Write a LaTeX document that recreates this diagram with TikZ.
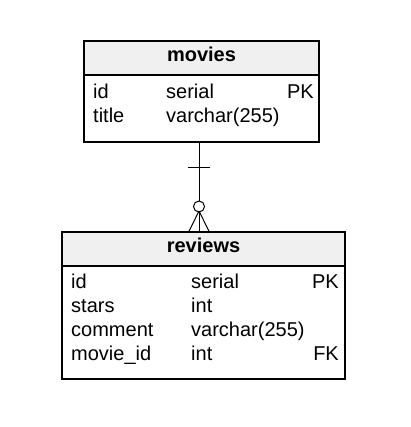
\documentclass[tikz,border=0pt]{standalone}
\usepackage{fontspec}
\setmainfont{Liberation Sans}
\begin{document}
\begin{tikzpicture}[x=1pt,y=-1pt,
  tbl/.style={draw=black, line width=1.4pt, rectangle, inner sep=0pt},
  hdr/.style={draw=black, line width=1.4pt, fill=black!6, rectangle, inner sep=0pt},
  fld/.style={anchor=base west, inner sep=0pt, font=\fontsize{20}{24}\selectfont},
  key/.style={anchor=base east, inner sep=0pt, font=\fontsize{20}{24}\selectfont},
  ttl/.style={anchor=base, inner sep=0pt, font=\fontsize{20}{24}\selectfont\bfseries},
  rel/.style={draw=black, line width=1pt}]
\useasboundingbox (0,0) rectangle (410,427);
% movies
\node[tbl, minimum width=235pt, minimum height=101pt] (movies) at (201.5,91.5) {};
\node[hdr, minimum width=235pt, minimum height=34pt] (movieshdr) at (201.5,58) {};
\node[ttl] (mt) at (201.5,62) {movies};
\node[fld] (m1a) at (93,99) {id};
\node[fld] (m1b) at (166,99) {serial};
\node[key] (m1c) at (314,99) {PK};
\node[fld] (m2a) at (93,123) {title};
\node[fld] (m2b) at (166,123) {varchar(255)};
% reviews
\node[tbl, minimum width=283pt, minimum height=147pt] (reviews) at (203.5,305.5) {};
\node[hdr, minimum width=283pt, minimum height=34pt] (reviewshdr) at (203.5,249) {};
\node[ttl] (rt) at (203.5,252) {reviews};
\node[fld] (r1a) at (71,288) {id};
\node[fld] (r1b) at (191,288) {serial};
\node[key] (r1c) at (339,288) {PK};
\node[fld] (r2a) at (71,312) {stars};
\node[fld] (r2b) at (191,312) {int};
\node[fld] (r3a) at (71,336) {comment};
\node[fld] (r3b) at (191,336) {varchar(255)};
\node[fld] (r4a) at (71,360) {movie\_id};
\node[fld] (r4b) at (191,360) {int};
\node[key] (r4c) at (339,360) {FK};
% relationship
\coordinate (cx) at (199,0);
\coordinate (apex) at (199,211);
\draw[rel] (movies.south -| cx) -- (reviews.north -| cx);
\draw[rel] (188,168) -- (210,168);
\draw[rel, fill=white] (199,206.5) circle (5.5pt);
\draw[rel] (apex) -- (reviews.north -| 189,0);
\draw[rel] (apex) -- (reviews.north -| 209,0);
\end{tikzpicture}
\end{document}
